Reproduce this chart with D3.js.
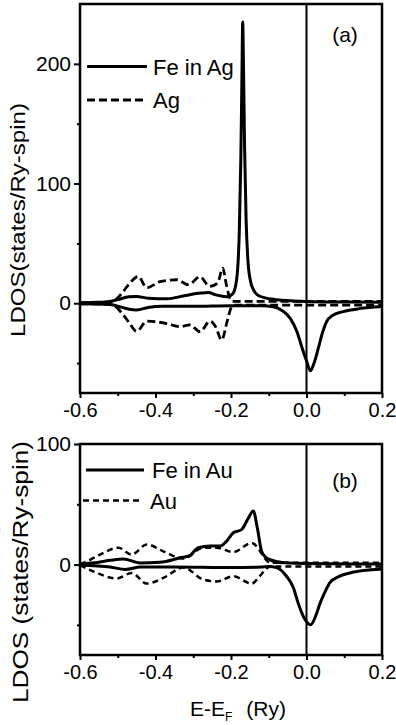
<!DOCTYPE html>
<html>
<head>
<meta charset="utf-8">
<script src="https://cdn.jsdelivr.net/npm/d3@7"></script>
<style>
  body { margin: 0; background: #fff; }
  svg text { font-family: "Liberation Sans", Arial, Helvetica, sans-serif; fill: #000; }
</style>
</head>
<body>
<script>
// E-EF (Ry) vs LDOS (states/Ry-spin)
var xTicks = [-0.6, -0.4, -0.2, 0.0, 0.2];
var xMinor = [-0.5, -0.3, -0.1, 0.1];

// panel (a): Fe in Ag
var feAgUp = [[-0.6,0.5],[-0.55,0.8],[-0.52,1.5],[-0.5,3],[-0.47,5.4],[-0.45,5.6],[-0.42,4.2],[-0.37,3.7],
  [-0.32,6.5],[-0.28,8.5],[-0.26,9],[-0.24,7],[-0.21,5.5],[-0.195,8],[-0.185,20],[-0.178,60],[-0.174,120],
  [-0.171,190],[-0.169,235],[-0.167,200],[-0.164,130],[-0.16,70],[-0.155,35],[-0.148,18],[-0.14,11],
  [-0.13,7],[-0.11,4.5],[-0.08,3],[-0.04,2],[0,1.5],[0.1,1],[0.2,0.8]];
var feAgDn = [[-0.6,-0.5],[-0.52,-1],[-0.5,-2.5],[-0.47,-5],[-0.45,-5.6],[-0.42,-3.5],[-0.38,-2.5],[-0.3,-2.5],
  [-0.2,-2],[-0.12,-2],[-0.088,-3],[-0.065,-6],[-0.043,-12.6],[-0.025,-24],[-0.011,-38],[0,-48],[0.01,-56.5],
  [0.02,-50],[0.031,-38],[0.042,-25],[0.053,-15.5],[0.07,-10],[0.097,-7],[0.14,-4.5],[0.2,-2.8]];
var agUp = [[-0.6,0.5],[-0.53,0.8],[-0.51,2],[-0.49,8],[-0.47,16],[-0.446,22.4],[-0.423,13],[-0.388,18],
  [-0.344,19.6],[-0.313,15.5],[-0.282,22],[-0.256,14],[-0.235,17],[-0.222,29.4],[-0.212,15],[-0.203,4],
  [-0.195,1.5],[-0.15,1.5],[0.2,1.5]];
var agDn = [[-0.6,-0.5],[-0.53,-0.8],[-0.51,-2],[-0.49,-8],[-0.47,-16],[-0.45,-23.5],[-0.423,-15],[-0.37,-17],
  [-0.335,-19.6],[-0.309,-18],[-0.282,-23.8],[-0.256,-15],[-0.24,-20],[-0.225,-30.8],[-0.21,-15],[-0.2,-4],
  [-0.194,-1.5],[0.2,-1.5]];

// panel (b): Fe in Au
var feAuUp = [[-0.6,0.5],[-0.55,2],[-0.52,3.5],[-0.485,4.7],[-0.441,1.4],[-0.388,1.9],[-0.335,5.6],[-0.309,7.5],
  [-0.287,14],[-0.256,15.3],[-0.23,15.3],[-0.21,20],[-0.194,26.4],[-0.172,29],[-0.155,38],[-0.141,44.4],
  [-0.13,30],[-0.119,11],[-0.108,6],[-0.097,4],[-0.06,1.5],[0,0.8],[0.2,0.5]];
var feAuDn = [[-0.6,-0.5],[-0.52,-2],[-0.48,-4],[-0.44,-2],[-0.35,-2],[-0.2,-2.5],[-0.12,-2],[-0.1,-1.5],
  [-0.079,-2.5],[-0.053,-9.7],[-0.035,-19],[-0.022,-32],[-0.005,-45],[0.011,-50],[0.025,-42],[0.036,-32],
  [0.05,-22],[0.062,-15],[0.085,-10],[0.115,-7],[0.15,-5],[0.2,-3.6]];
var auUp = [[-0.6,0.5],[-0.573,4],[-0.547,8.3],[-0.498,14],[-0.463,8.3],[-0.423,16.7],[-0.379,11],[-0.326,5],
  [-0.273,14],[-0.238,14],[-0.194,10.3],[-0.145,18],[-0.125,12],[-0.11,5],[-0.097,1.5],[0.2,1.5]];
var auDn = [[-0.6,-0.5],[-0.565,-5.6],[-0.503,-11.5],[-0.463,-7],[-0.423,-15.8],[-0.379,-11],[-0.326,-2.5],
  [-0.273,-12.5],[-0.238,-14],[-0.194,-9.7],[-0.145,-15.8],[-0.125,-10],[-0.108,-4],[-0.097,-1.5],[0.2,-1.5]];

var width = 396, height = 725;

var svg = d3.select("body").append("svg")
    .attr("width", width)
    .attr("height", height);

var x = d3.scaleLinear().domain([-0.6, 0.2]).range([80, 382]);

function drawPanel(p) {
    var y = d3.scaleLinear().domain(p.yDomain).range([p.bottom, p.top]);
    var g = svg.append("g");

    var line = d3.line()
        .x(function (d) { return x(d[0]); })
        .y(function (d) { return y(d[1]); })
        .curve(d3.curveMonotoneX);

    // zero of energy
    g.append("line")
        .attr("x1", x(0)).attr("x2", x(0))
        .attr("y1", p.top).attr("y2", p.bottom)
        .attr("stroke", "#000").attr("stroke-width", 2);

    p.series.forEach(function (s) {
        g.append("path")
            .attr("d", line(s.data))
            .attr("fill", "none")
            .attr("stroke", "#000")
            .attr("stroke-width", s.width)
            .attr("stroke-dasharray", s.dash || null)
            .attr("stroke-linejoin", "round");
    });

    // axes
    var xAxis = g.append("g")
        .attr("transform", "translate(0," + p.bottom + ")")
        .call(d3.axisBottom(x).tickValues(xTicks).tickSize(5).tickSizeOuter(0).tickPadding(5)
            .tickFormat(d3.format(".1f")));
    var xAxisMinor = g.append("g")
        .attr("transform", "translate(0," + p.bottom + ")")
        .call(d3.axisBottom(x).tickValues(xMinor).tickSize(3).tickSizeOuter(0).tickFormat(""));
    var yAxis = g.append("g")
        .attr("transform", "translate(80,0)")
        .call(d3.axisLeft(y).tickValues(p.yTicks).tickSize(6).tickSizeOuter(0).tickPadding(3));
    var yAxisMinor = g.append("g")
        .attr("transform", "translate(80,0)")
        .call(d3.axisLeft(y).tickValues(p.yMinor).tickSize(3).tickSizeOuter(0).tickFormat(""));

    [xAxis, xAxisMinor, yAxis, yAxisMinor].forEach(function (a) {
        a.select(".domain").remove();
        a.selectAll(".tick line").attr("stroke", "#000").attr("stroke-width", 2);
        a.selectAll("text").attr("font-size", 20).attr("fill", "#000")
            .attr("font-family", "'Liberation Sans', Arial, sans-serif");
    });
    xAxis.selectAll("text").text(function (d) { return d3.format(".1f")(d).replace("−", "-"); });
    yAxis.selectAll("text").attr("font-size", 21);

    // frame
    g.append("rect")
        .attr("x", 80).attr("y", p.top)
        .attr("width", 302).attr("height", p.bottom - p.top)
        .attr("fill", "none").attr("stroke", "#000").attr("stroke-width", 2.5);

    // legend
    p.legend.forEach(function (l) {
        g.append("line")
            .attr("x1", l.x1).attr("x2", l.x2)
            .attr("y1", l.y).attr("y2", l.y)
            .attr("stroke", "#000").attr("stroke-width", l.width)
            .attr("stroke-dasharray", l.dash || null);
        g.append("text")
            .attr("x", l.tx).attr("y", l.y + 8)
            .attr("font-size", 22)
            .text(l.label);
    });

    g.append("text")
        .attr("x", 345).attr("y", p.tagY)
        .attr("text-anchor", "middle")
        .attr("font-size", 21)
        .text(p.tag);

    g.append("text")
        .attr("transform", "translate(" + p.titleX + "," + p.titleY + ") rotate(-90)")
        .attr("text-anchor", "middle")
        .attr("font-size", p.titleSize)
        .attr("textLength", p.titleLen)
        .attr("lengthAdjust", "spacingAndGlyphs")
        .text(p.title);
}

drawPanel({
    top: 4, bottom: 393, yDomain: [-75, 250],
    yTicks: [0, 100, 200], yMinor: [-50, 50, 150],
    series: [
        {data: agUp, width: 2.8, dash: "8,4"},
        {data: agDn, width: 2.8, dash: "8,4"},
        {data: feAgDn, width: 3},
        {data: feAgUp, width: 3}
    ],
    legend: [
        {x1: 87, x2: 147, y: 66.5, tx: 153, label: "Fe in Ag", width: 3.2},
        {x1: 87, x2: 147, y: 100, tx: 153, label: "Ag", width: 3, dash: "8,4"}
    ],
    tag: "(a)", tagY: 42,
    title: "LDOS(states/Ry-spin)", titleX: 25, titleY: 220, titleSize: 21, titleLen: 234
});

drawPanel({
    top: 444, bottom: 655, yDomain: [-75, 100],
    yTicks: [0, 100], yMinor: [-50, 50],
    series: [
        {data: auUp, width: 2.5, dash: "6,4"},
        {data: auDn, width: 2.5, dash: "6,4"},
        {data: feAuDn, width: 3},
        {data: feAuUp, width: 3}
    ],
    legend: [
        {x1: 86, x2: 144, y: 470, tx: 152, label: "Fe in Au", width: 3.2},
        {x1: 83, x2: 143, y: 500.5, tx: 150, label: "Au", width: 2.5, dash: "6,4"}
    ],
    tag: "(b)", tagY: 488,
    title: "LDOS (states/Ry-spin)", titleX: 28, titleY: 572, titleSize: 22, titleLen: 262
});

// shared energy axis title
var xt = svg.append("text")
    .attr("x", 190).attr("y", 716)
    .attr("font-size", 21);
xt.append("tspan").text("E-E");
xt.append("tspan").attr("font-size", 12).attr("dy", 5).text("F");
xt.append("tspan").attr("dy", -5).attr("dx", 14).text("(Ry)");
</script>
</body>
</html>
